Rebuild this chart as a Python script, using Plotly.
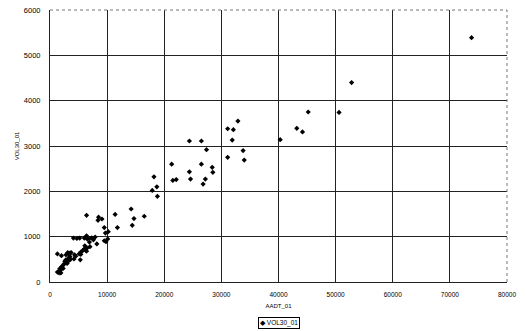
import plotly.graph_objects as go

# AADT_01 (x) and VOL30_01 (y) values
aadt_01 = [
    73800, 52800, 50600, 45200, 43200, 44200, 40300,
    32900, 31100, 32100, 31900, 24400, 26500, 27400, 33800, 31100, 34000,
    21300, 26500, 28400, 28500, 24400, 24600, 27200, 21500, 22100, 26800,
    18200, 18700, 17900, 18800,
    14200, 11400, 16500, 14700, 8500, 9100, 8400, 14400, 11800, 9500, 10200,
    6400, 9700, 10100, 9500, 9800,
    4100, 4700, 5200, 6000, 6500, 6900, 7300, 7900, 7600, 6900, 8200, 6400,
    6100, 6500, 6000, 5700, 6400, 5400, 5400, 5300, 4200, 3500, 3700, 3300,
    4300, 3500, 3300, 2800, 2600, 2700, 2500, 2200, 2000, 1700, 1800, 1300,
    1600, 1900, 1300, 2000, 2800, 3100, 3200, 3000, 2300, 4500, 5100, 6200,
    7000, 3600,
]
vol30_01 = [
    5390, 4400, 3740, 3750, 3390, 3310, 3140,
    3550, 3380, 3360, 3130, 3110, 3110, 2920, 2900, 2750, 2690,
    2600, 2600, 2530, 2420, 2430, 2270, 2270, 2240, 2260, 2160,
    2320, 2100, 2020, 1890,
    1610, 1490, 1450, 1400, 1430, 1390, 1360, 1250, 1200, 1200, 1110,
    1470, 1080, 950, 910, 890,
    970, 960, 970, 970, 950, 960, 975, 990, 930, 880, 840, 1020,
    800, 750, 730, 690, 680, 660, 610, 490, 510, 640, 650, 620,
    600, 560, 530, 490, 460, 420, 400, 360, 330, 290, 250, 220,
    200, 200, 620, 580, 600, 650, 460, 410, 300, 570, 620, 700,
    780, 500,
]

x_ticks = [0, 10000, 20000, 30000, 40000, 50000, 60000, 70000, 80000]
y_ticks = [0, 1000, 2000, 3000, 4000, 5000, 6000]
x_tick_labels = [str(v) for v in x_ticks]
y_tick_labels = [str(v) for v in y_ticks]

series_name = "VOL30_01"
x_title = "AADT_01"
y_title = "VOL30_01"

font_family = "Liberation Sans, Arial, sans-serif"

fig = go.Figure()
fig.add_trace(go.Scatter(
    x=aadt_01, y=vol30_01, mode="markers", name=series_name,
    marker=dict(symbol="diamond", size=4, color="black"),
    showlegend=False,
))

fig.update_layout(
    width=526, height=331,
    margin=dict(l=50, r=19, t=10, b=49),
    paper_bgcolor="white", plot_bgcolor="white",
    font=dict(family=font_family, color="black", size=7),
)
fig.update_xaxes(
    range=[0, 80000], tickvals=x_ticks, ticktext=x_tick_labels,
    showgrid=True, gridcolor="#222", gridwidth=1,
    showline=True, linecolor="#222", linewidth=1,
    zeroline=False, ticks="outside", ticklen=6, tickcolor="white",
    tickfont=dict(size=6.5, color="black"), automargin=False,
    title=dict(text=x_title, font=dict(size=6, color="black"), standoff=7),
)
fig.update_yaxes(
    range=[0, 6000], tickvals=y_ticks, ticktext=y_tick_labels,
    showgrid=True, gridcolor="#222", gridwidth=1,
    showline=True, linecolor="#222", linewidth=1,
    zeroline=False, ticks="outside", ticklen=7, tickcolor="white",
    tickfont=dict(size=7.5, color="black"), automargin=False,
    title=dict(text=y_title, font=dict(size=6, color="black"), standoff=3),
)
# dotted top and right border
fig.add_shape(type="line", xref="paper", yref="paper", x0=0, x1=1, y0=1, y1=1,
              line=dict(color="#777", width=1, dash="dot"))
fig.add_shape(type="line", xref="paper", yref="paper", x0=1, x1=1, y0=0, y1=1,
              line=dict(color="#777", width=1, dash="dot"))
# legend box
fig.add_annotation(
    xref="paper", yref="paper", x=0.5, y=-0.13, yanchor="top", xanchor="center",
    text="\u25c6 " + series_name, showarrow=False,
    font=dict(size=6.5, color="black"), bordercolor="black", borderwidth=1, borderpad=1,
    bgcolor="white",
)

fig.write_html(
    "out.html",
    config={"displayModeBar": False},
    post_script="document.body.style.margin='0';document.body.style.padding='0';",
)
